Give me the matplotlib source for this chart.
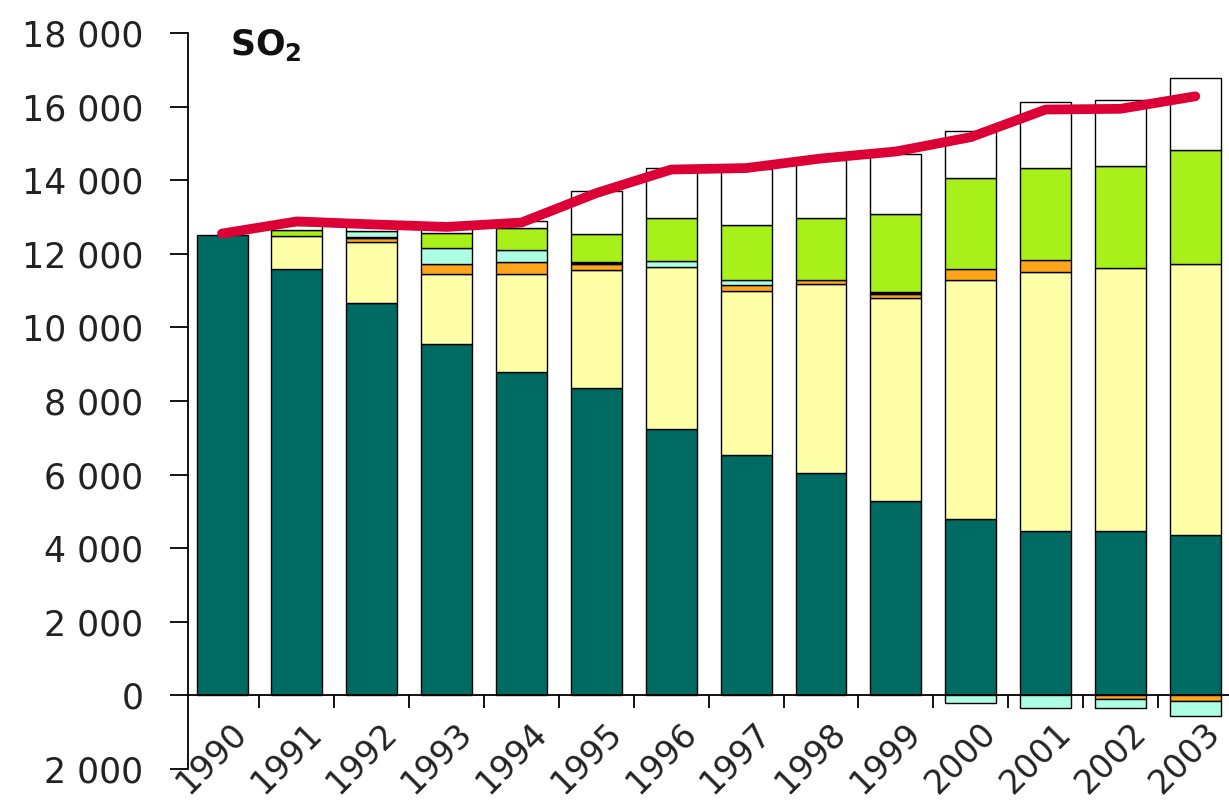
import numpy as np
import matplotlib
matplotlib.use("Agg")
import matplotlib.pyplot as plt
from matplotlib.transforms import ScaledTranslation

plt.rcParams['font.family'] = ['DejaVu Sans']
plt.rcParams['mathtext.fontset'] = 'dejavusans'

years = ['1990', '1991', '1992', '1993', '1994', '1995', '1996',
         '1997', '1998', '1999', '2000', '2001', '2002', '2003']

# stacked positive segments (bottom to top)
teal   = [12500, 11580, 10650, 9560, 8800, 8340, 7230, 6520, 6030, 5270, 4780, 4460, 4460, 4350]
yellow = [0, 910, 1680, 1880, 2640, 3230, 4400, 4480, 5140, 5540, 6510, 7050, 7160, 7380]
orange = [0, 0, 100, 270, 330, 145, 0, 140, 120, 110, 285, 330, 0, 0]
black  = [0, 0, 30, 0, 0, 75, 0, 0, 0, 55, 0, 0, 0, 0]
cyan   = [0, 0, 160, 444, 330, 0, 170, 140, 0, 0, 0, 0, 0, 0]
green  = [0, 150, 0, 400, 600, 760, 1170, 1490, 1690, 2120, 2495, 2500, 2770, 3100]
white  = [0, 150, 140, 150, 180, 1146, 1360, 1530, 1580, 1610, 1260, 1790, 1800, 1950]

# negative segments (stacked downward from zero)
orange_neg = [0, 0, 0, 0, 0, 0, 0, 0, 0, 0, 0, 0, -100, -160]
cyan_neg   = [0, 0, 0, 0, 0, 0, 0, 0, 0, 0, -210, -330, -230, -400]

# line series
total_line = [12550, 12880, 12800, 12730, 12850, 13650, 14290, 14330, 14590, 14780,
              15170, 15920, 15940, 16280]

yticks = [-2000, 0, 2000, 4000, 6000, 8000, 10000, 12000, 14000, 16000, 18000]
ytick_labels = ['2 000', '0', '2 000', '4 000', '6 000', '8 000', '10 000',
                '12 000', '14 000', '16 000', '18 000']

colors = {
    'teal': '#006B62',
    'yellow': '#FFFFA8',
    'orange': '#FFA51C',
    'black': '#000000',
    'cyan': '#ADFFE4',
    'green': '#A8F01A',
    'white': '#FFFFFF',
}

fig = plt.figure(figsize=(12.29, 8.0), dpi=100)
ax = fig.add_axes([188 / 1229, 31 / 800, 1 - 188 / 1229, (769 - 33) / 800])

x = np.arange(len(years))
w = 0.68
edge_kw = dict(edgecolor='black', linewidth=1.0)

bottom = np.zeros(len(years))
for name, vals in [('teal', teal), ('yellow', yellow), ('orange', orange),
                   ('black', black), ('cyan', cyan), ('green', green), ('white', white)]:
    v = np.array(vals, dtype=float)
    m = v != 0
    ax.bar(x[m], v[m], bottom=bottom[m], width=w, color=colors[name], zorder=2, **edge_kw)
    bottom += v

nb = np.zeros(len(years))
for name, vals in [('orange', orange_neg), ('cyan', cyan_neg)]:
    v = np.array(vals, dtype=float)
    m = v != 0
    ax.bar(x[m], v[m], bottom=nb[m], width=w, color=colors[name], zorder=2, **edge_kw)
    nb += v

ax.plot(x, total_line, color='#DC0037', linewidth=7, solid_capstyle='round',
        solid_joinstyle='round', zorder=4)

ax.set_xlim(-0.455, 13.45)
ax.set_ylim(-2000, 18000)

for s in ['top', 'right']:
    ax.spines[s].set_visible(False)
ax.spines['bottom'].set_position(('data', 0))
ax.spines['bottom'].set_linewidth(1.3)
ax.spines['left'].set_linewidth(1.3)
ax.spines['bottom'].set_zorder(3)

ax.set_yticks(yticks)
ax.set_yticklabels(ytick_labels)
ax.tick_params(axis='y', length=13, width=1.3, pad=19, labelsize=25, labelcolor='#222222')

ax.set_xticks(x)
ax.set_xticklabels(years, rotation=45, ha='center', va='top')
ax.tick_params(axis='x', which='major', length=0, pad=15, labelsize=24, labelcolor='#222222')
ax.set_xticks(np.arange(0.5, 13, 1.0), minor=True)
ax.tick_params(axis='x', which='minor', length=9, width=1.3, direction='out')

offset = ScaledTranslation(-10 / 100, 0, fig.dpi_scale_trans)
for lab in ax.get_xticklabels():
    lab.set_transform(lab.get_transform() + offset)

fig.text(230 / 1229, (800 - 55) / 800, r'$\mathbf{SO_2}$', fontsize=25, color='#111111',
         ha='left', va='baseline')

fig.savefig('out.png', dpi=100)
